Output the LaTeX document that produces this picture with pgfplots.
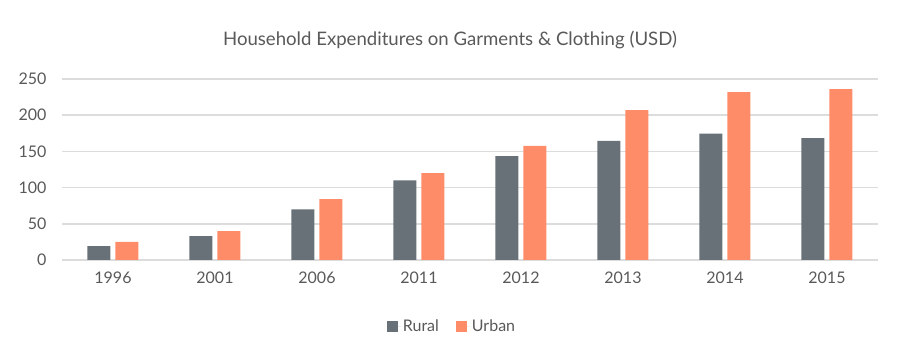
\documentclass[border=0pt]{standalone}
\usepackage{pgfplots}
\pgfplotsset{compat=1.18}
\usepackage{fontspec}
\setmainfont{Lato}
\definecolor{rural}{HTML}{687078}
\definecolor{urban}{HTML}{FF8C69}
\definecolor{gridc}{HTML}{DCDCDC}
\definecolor{txt}{HTML}{595959}
\begin{document}
\begin{tikzpicture}[x=1pt,y=1pt]
\path[use as bounding box] (-62,-103) rectangle (838,260);
\begin{axis}[
  at={(0,0)}, anchor=south west,
  scale only axis,
  width=816pt, height=181pt,
  ybar=5pt, bar width=23pt,
  xmin=-0.5, xmax=7.5,
  ymin=0, ymax=250,
  xtick=data,
  xticklabels={1996,2001,2006,2011,2012,2013,2014,2015},
  ytick={0,50,100,150,200,250},
  ymajorgrids, grid style={gridc, line width=1.5pt},
  axis line style={draw=none},
  major tick length=0pt,
  tick label style={font=\fontsize{16}{19}\selectfont, text=txt},
  /pgf/number format/assume math mode=true,
  yticklabel style={xshift=-12pt},
  xticklabel style={yshift=-8pt},
  legend style={at={(390/816,-0.365)}, anchor=center, draw=none,
    legend columns=2, font=\fontsize{16}{19}\selectfont, text=txt,
    /tikz/every even column/.append style={column sep=15pt}},
  legend image code/.code={\fill[#1] (0pt,-5.5pt) rectangle (11pt,5.5pt); \path (0pt,0pt) -- (14pt,0pt);},
]
\addplot[fill=rural, draw=none] coordinates {(0,19) (1,33) (2,70) (3,110) (4,143.5) (5,164.5) (6,174.5) (7,168.5)};
\addplot[fill=urban, draw=none] coordinates {(0,25) (1,40) (2,84) (3,120) (4,157.5) (5,207) (6,232) (7,236)};
\legend{Rural,Urban}
\end{axis}
\node[text=txt, font=\fontsize{18.6}{22}\selectfont] at (388,220) {Household Expenditures on Garments \& Clothing (USD)};
\end{tikzpicture}
\end{document}
